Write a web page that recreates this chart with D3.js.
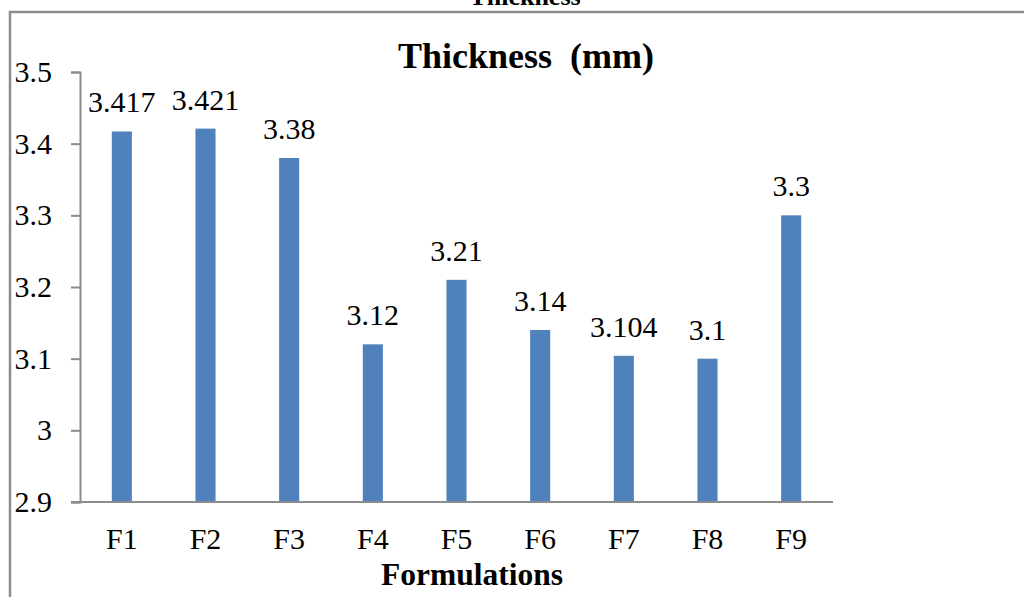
<!DOCTYPE html>
<html>
<head>
<meta charset="utf-8">
<script src="https://cdn.jsdelivr.net/npm/d3@7"></script>
<style>
  body { margin: 0; background: #fff; }
  svg text { font-family: "Liberation Serif", "Times New Roman", serif; }
</style>
</head>
<body>
<div id="chart"></div>
<script>
var categories = ['F1', 'F2', 'F3', 'F4', 'F5', 'F6', 'F7', 'F8', 'F9'];
var values = [3.417, 3.421, 3.38, 3.12, 3.21, 3.14, 3.104, 3.1, 3.3];
var valueLabels = ['3.417', '3.421', '3.38', '3.12', '3.21', '3.14', '3.104', '3.1', '3.3'];
var yTicks = [2.9, 3, 3.1, 3.2, 3.3, 3.4, 3.5];

var width = 1024;
var height = 597;
var margin = { top: 72, right: 191, bottom: 95, left: 80 };

var svg = d3.select('#chart').append('svg')
    .attr('width', width)
    .attr('height', height);

// cut-off heading from the page above
svg.append('text')
    .attr('x', 525).attr('y', 5)
    .attr('text-anchor', 'middle')
    .style('font-weight', 'bold')
    .style('font-size', '26px')
    .text('Thickness');

// chart frame
svg.append('rect')
    .attr('x', 10).attr('y', 12)
    .attr('width', 1030).attr('height', 600)
    .attr('fill', 'none')
    .attr('stroke', '#8c8c8c')
    .attr('stroke-width', 2.5);

var xScale = d3.scaleBand().domain(categories)
    .range([margin.left, width - margin.right])
    .paddingInner(0.76).paddingOuter(0.38);
var yScale = d3.scaleLinear().domain([2.9, 3.5])
    .range([height - margin.bottom, margin.top]);

svg.append('text')
    .attr('x', 526).attr('y', 68)
    .attr('text-anchor', 'middle')
    .style('font-weight', 'bold')
    .style('font-size', '36px')
    .style('white-space', 'pre')
    .text('Thickness  (mm)');

svg.selectAll('.bar').data(values).enter().append('rect')
    .attr('class', 'bar')
    .attr('x', function (d, i) { return xScale(categories[i]); })
    .attr('y', function (d) { return yScale(d); })
    .attr('width', xScale.bandwidth())
    .attr('height', function (d) { return yScale(2.9) - yScale(d); })
    .attr('fill', '#4f81bd');

svg.selectAll('.val').data(values).enter().append('text')
    .attr('class', 'val')
    .attr('x', function (d, i) { return xScale(categories[i]) + xScale.bandwidth() / 2; })
    .attr('y', function (d) { return yScale(d) - 19; })
    .attr('text-anchor', 'middle')
    .style('font-size', '30px')
    .text(function (d, i) { return valueLabels[i]; });

var yAxis = d3.axisLeft(yScale).tickValues(yTicks)
    .tickFormat(d3.format('')).tickSize(9).tickPadding(19);
var yAxisEl = svg.append('g')
    .attr('transform', 'translate(' + margin.left + ',0)')
    .call(yAxis);
yAxisEl.selectAll('text').style('font-size', '30px').attr('fill', '#000').attr('dy', '0.32em');

var xAxis = d3.axisBottom(xScale).tickSize(0).tickPadding(26);
var xAxisEl = svg.append('g')
    .attr('transform', 'translate(0,' + (height - margin.bottom) + ')')
    .call(xAxis);
xAxisEl.selectAll('text').style('font-size', '30px').attr('fill', '#000');
xAxisEl.select('.domain').attr('d', 'M' + (margin.left - 9) + ',0H' + (width - margin.right));

svg.selectAll('.domain, .tick line').attr('stroke', '#8c8c8c').attr('stroke-width', 2);

svg.append('text')
    .attr('x', 472).attr('y', 585)
    .attr('text-anchor', 'middle')
    .style('font-weight', 'bold')
    .style('font-size', '31.5px')
    .text('Formulations');
</script>
</body>
</html>
